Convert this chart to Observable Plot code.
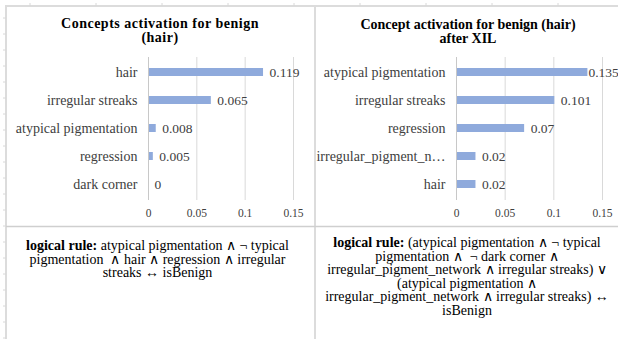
<!DOCTYPE html>
<html>
<head>
<meta charset="utf-8">
<script src="https://cdn.jsdelivr.net/npm/d3@7"></script>
<script src="https://cdn.jsdelivr.net/npm/@observablehq/plot@0.6"></script>
<style>
  html, body { margin: 0; padding: 0; background: #fff; }
  #wrap { position: relative; width: 618px; height: 339px; overflow: hidden; background: #fff;
          font-family: "Liberation Serif", "Times New Roman", serif; color: #000; }
  .abs { position: absolute; }
  .title { font-weight: bold; font-size: 14px; line-height: 14px; text-align: center; white-space: pre; }
  .rule { font-size: 14px; line-height: 13.6px; text-align: center; white-space: pre; }
</style>
</head>
<body>
<div id="wrap"></div>
<script>
// ---- data ----
const leftCategories = ["hair", "irregular streaks", "atypical pigmentation", "regression", "dark corner"];
const leftValues = [0.119, 0.065, 0.008, 0.005, 0];
const rightCategories = ["atypical pigmentation", "irregular streaks", "regression", "irregular_pigment_network", "hair"];
const rightValues = [0.135, 0.101, 0.07, 0.02, 0.02];
const xTickValues = [0, 0.05, 0.1, 0.15];
const leftTitle = ["Concepts activation for benign", "(hair)"];
const rightTitle = ["Concept activation for benign (hair)", "after XIL"];
const leftRule = [
  ["logical rule: ", "atypical pigmentation \u2227 \u00ac typical"],
  ["", "pigmentation  \u2227 hair \u2227 regression \u2227 irregular"],
  ["", "streaks \u2194 isBenign"]
];
const rightRule = [
  ["logical rule: ", "(atypical pigmentation \u2227 \u00ac typical"],
  ["", "pigmentation \u2227  \u00ac dark corner \u2227"],
  ["", "irregular_pigment_network \u2227 irregular streaks) \u2228"],
  ["", "(atypical pigmentation \u2227"],
  ["", "irregular_pigment_network \u2227 irregular streaks) \u2194"],
  ["", "isBenign"]
];

const wrap = document.getElementById("wrap");

// ---- frame (table borders) ----
const frame = d3.create("svg").attr("width", 618).attr("height", 339)
  .style("position", "absolute").style("left", "0px").style("top", "0px");
const lineColor = "#dcdcdc";
frame.append("line").attr("x1", 6).attr("x2", 618).attr("y1", 6).attr("y2", 6).attr("stroke", lineColor).attr("stroke-width", 2);
frame.append("line").attr("x1", 6).attr("x2", 6).attr("y1", 5).attr("y2", 339).attr("stroke", lineColor).attr("stroke-width", 2);
frame.append("line").attr("x1", 315).attr("x2", 315).attr("y1", 5).attr("y2", 339).attr("stroke", lineColor).attr("stroke-width", 2);
frame.append("line").attr("x1", 6).attr("x2", 618).attr("y1", 226.5).attr("y2", 226.5).attr("stroke", "#cfcfcf").attr("stroke-width", 1.5);
// faint ruler marks
for (let x = 30; x < 618; x += 66) {
  frame.append("line").attr("x1", x).attr("x2", x).attr("y1", 3).attr("y2", 6).attr("stroke", "#d8d8d8").attr("stroke-width", 1);
}
for (let y = 18; y < 339; y += 16) {
  frame.append("line").attr("x1", 3).attr("x2", 6).attr("y1", y).attr("y2", y).attr("stroke", "#d8d8d8").attr("stroke-width", 1);
}
wrap.appendChild(frame.node());

// ---- charts ----
function chart(categories, values, width, marginLeft, marginRight) {
  const data = categories.map((c, i) => ({concept: c, value: values[i]}));
  const fits = d => d.value <= 0.13;   // labels near the right edge hug the bar (as Excel does)
  const marks = [
    Plot.ruleX(xTickValues.slice(1), {stroke: "#d9d9d9", strokeWidth: 1}),
    Plot.barX(data, {x: "value", y: "concept", fill: "#8faadc"}),
    Plot.ruleX([0], {stroke: "#c8c8c8", strokeWidth: 1}),
    Plot.text(data, {filter: fits, x: "value", y: "concept", text: d => String(d.value), dx: 6, textAnchor: "start",
                     fill: "#404040", fontSize: 13.5}),
    Plot.text(data, {filter: d => !fits(d), x: "value", y: "concept", text: d => String(d.value), dx: 0.5, textAnchor: "start",
                     fill: "#404040", fontSize: 13.5}),
    Plot.axisX({ticks: xTickValues, tickSize: 0, tickPadding: 8, fontSize: 11.5, fill: "#404040",
                tickFormat: d => String(d), label: null}),
    Plot.axisY({tickSize: 0, tickPadding: 11, fontSize: 14, fill: "#404040", label: null,
                tickFormat: d => d.length > 22 ? d.slice(0, 19) + "\u2026" : d})
  ];
  return Plot.plot({
    width, height: 226,
    marginTop: 57, marginBottom: 26, marginLeft, marginRight,
    style: {fontFamily: "'Liberation Serif', 'Times New Roman', serif", background: "transparent", overflow: "visible"},
    x: {domain: [0, 0.15]},
    y: {domain: categories, paddingInner: 0.7, paddingOuter: 0.35},
    marks
  });
}

function place(node, left, top) {
  node.style.position = "absolute";
  node.style.left = left + "px";
  node.style.top = top + "px";
  wrap.appendChild(node);
}

place(chart(leftCategories, leftValues, 315, 148, 22), 0, 0);
place(chart(rightCategories, rightValues, 303, 141, 16), 315, 0);

// ---- titles and rule texts ----
function textBlock(lines, cls, left, width, top, extraStyle) {
  const div = document.createElement("div");
  div.className = "abs " + cls;
  div.style.left = left + "px";
  div.style.width = width + "px";
  div.style.top = top + "px";
  if (extraStyle) Object.assign(div.style, extraStyle);
  lines.forEach(ln => {
    const row = document.createElement("div");
    if (Array.isArray(ln)) {
      if (ln[0]) { const b = document.createElement("b"); b.textContent = ln[0]; row.appendChild(b); }
      row.appendChild(document.createTextNode(ln[1]));
    } else row.textContent = ln;
    div.appendChild(row);
  });
  wrap.appendChild(div);
}
textBlock(leftTitle, "title", 0, 320, 17, {letterSpacing: "0.5px"});
textBlock(rightTitle, "title", 318, 300, 18);
textBlock(leftRule, "rule", 0, 315, 239);
textBlock(rightRule, "rule", 316, 302, 236);
</script>
</body>
</html>
